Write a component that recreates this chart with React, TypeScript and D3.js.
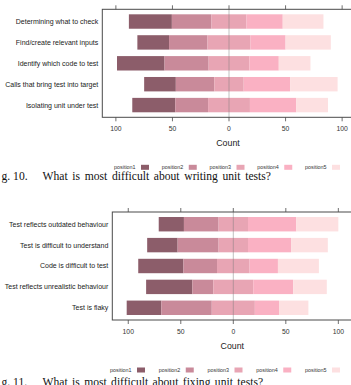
import { useEffect, useRef } from "react";
import * as d3 from "d3";

const levels = ["position1", "position2", "position3", "position4", "position5"];

const writingItems = [
  "Determining what to check",
  "Find/create relevant inputs",
  "Identify which code to test",
  "Calls that bring test into target",
  "Isolating unit under test",
];
const writingCounts = [
  [38, 35, 31, 32, 36],
  [28, 34, 38, 31, 40],
  [42, 39, 36, 26, 28],
  [28, 34, 26, 41, 42],
  [38, 29, 37, 41, 28],
];

const fixingItems = [
  "Test reflects outdated behaviour",
  "Test is difficult to understand",
  "Code is difficult to test",
  "Test reflects unrealistic behaviour",
  "Test is flaky",
];
const fixingCounts = [
  [24, 33, 28, 46, 40],
  [29, 39, 28, 41, 35],
  [43, 32, 31, 27, 39],
  [44, 20, 38, 38, 32],
  [33, 48, 41, 23, 28],
];

const tickValues = [-100, -50, 0, 50, 100];

const palette = ["#8c5d6a", "#c98a9a", "#e8a5b4", "#fab1c3", "#fde0e1"];

interface PanelConfig {
  left: number;
  zero: number;
  max: number;
  top: number;
  bottom: number;
  legendX: number;
  legendStep: number;
  figLabel: string;
  caption: string;
  captionY: number;
  wordSpacing: number;
}

function drawPanel(
  svg: d3.Selection<SVGSVGElement, unknown, null, undefined>,
  items: string[],
  counts: number[][],
  cfg: PanelConfig
) {
  const x = d3
    .scaleLinear()
    .domain([-cfg.max, cfg.max])
    .range([cfg.left, 2 * cfg.zero - cfg.left]);
  const y = d3
    .scaleBand()
    .domain(items)
    .range([cfg.top, cfg.bottom])
    .paddingInner(0.31)
    .paddingOuter(0.24);

  const g = svg.append("g");

  // stacked segments, centred on the middle of position3
  items.forEach((item, i) => {
    const row = counts[i];
    let start = -(row[0] + row[1] + row[2] / 2);
    row.forEach((v, j) => {
      g.append("rect")
        .attr("x", x(start))
        .attr("y", y(item)!)
        .attr("width", x(start + v) - x(start))
        .attr("height", y.bandwidth())
        .attr("fill", palette[j]);
      start += v;
    });
  });

  // zero reference line
  g.append("line")
    .attr("x1", x(0))
    .attr("x2", x(0))
    .attr("y1", cfg.top)
    .attr("y2", cfg.bottom)
    .attr("stroke", "#7a7a7a")
    .attr("stroke-opacity", 0.6)
    .attr("stroke-width", 0.8);

  // plot frame
  g.append("rect")
    .attr("x", cfg.left)
    .attr("y", cfg.top)
    .attr("width", x.range()[1] - cfg.left)
    .attr("height", cfg.bottom - cfg.top)
    .attr("fill", "none")
    .attr("stroke", "#4a4a4a")
    .attr("stroke-width", 1);

  // ticks top + bottom
  tickValues.forEach((t) => {
    g.append("line")
      .attr("x1", x(t))
      .attr("x2", x(t))
      .attr("y1", cfg.top - 4)
      .attr("y2", cfg.top)
      .attr("stroke", "#4a4a4a")
      .attr("stroke-width", 0.8);
    g.append("line")
      .attr("x1", x(t))
      .attr("x2", x(t))
      .attr("y1", cfg.bottom)
      .attr("y2", cfg.bottom + 4)
      .attr("stroke", "#4a4a4a")
      .attr("stroke-width", 0.8);
    g.append("text")
      .attr("x", x(t))
      .attr("y", cfg.bottom + 13.5)
      .attr("text-anchor", "middle")
      .attr("font-size", 6.8)
      .attr("fill", "#333")
      .text(Math.abs(t));
  });

  // category labels
  items.forEach((item) => {
    g.append("text")
      .attr("x", cfg.left - 4)
      .attr("y", y(item)! + y.bandwidth() / 2)
      .attr("dy", "0.35em")
      .attr("text-anchor", "end")
      .attr("font-size", 7)
      .attr("fill", "#222")
      .text(item);
  });

  g.append("text")
    .attr("x", x(0) - 1)
    .attr("y", cfg.bottom + 28.8)
    .attr("text-anchor", "middle")
    .attr("font-size", 8.8)
    .attr("fill", "#222")
    .text("Count");

  // legend
  const ly = cfg.bottom + 50;
  levels.forEach((lv, j) => {
    const lx = cfg.legendX + j * cfg.legendStep;
    g.append("text")
      .attr("x", lx)
      .attr("y", ly)
      .attr("dy", "0.35em")
      .attr("font-size", 5.4)
      .attr("fill", "#333")
      .text(lv);
    g.append("rect")
      .attr("x", lx + 27)
      .attr("y", ly - 2.5)
      .attr("width", 8)
      .attr("height", 5)
      .attr("fill", palette[j]);
  });

  // caption (the "Fi" of "Fig." is cut off in the source)
  const cap = g
    .append("text")
    .attr("y", cfg.captionY)
    .attr("font-family", "'Liberation Serif', 'Times New Roman', serif")
    .attr("font-size", 11.6)
    .attr("fill", "#111");
  cap.append("tspan").attr("x", 1.5).text(cfg.figLabel);
  cap
    .append("tspan")
    .attr("x", 42.5)
    .attr("word-spacing", cfg.wordSpacing)
    .text(cfg.caption);
}

export default function App() {
  const svgRef = useRef<SVGSVGElement | null>(null);

  useEffect(() => {
    if (!svgRef.current) return;
    const svg = d3.select(svgRef.current);
    svg.selectAll("*").remove();

    drawPanel(svg, writingItems, writingCounts, {
      left: 102.3,
      zero: 229,
      max: 112,
      top: 9.3,
      bottom: 117.3,
      legendX: 114,
      legendStep: 47.75,
      figLabel: "g. 10.",
      caption: "What is most difficult about writing unit tests?",
      captionY: 179.5,
      wordSpacing: 1.8,
    });

    drawPanel(svg, fixingItems, fixingCounts, {
      left: 112.3,
      zero: 233.3,
      max: 115.2,
      top: 212,
      bottom: 320,
      legendX: 110,
      legendStep: 48.75,
      figLabel: "g. 11.",
      caption: "What is most difficult about fixing unit tests?",
      captionY: 385.5,
      wordSpacing: 1.5,
    });
  }, []);

  return (
    <div>
      <style>{`body{margin:0}`}</style>
      <svg
        ref={svgRef}
        width={351}
        height={385}
        style={{ display: "block", fontFamily: "'Liberation Sans', Arial, sans-serif" }}
      />
    </div>
  );
}
